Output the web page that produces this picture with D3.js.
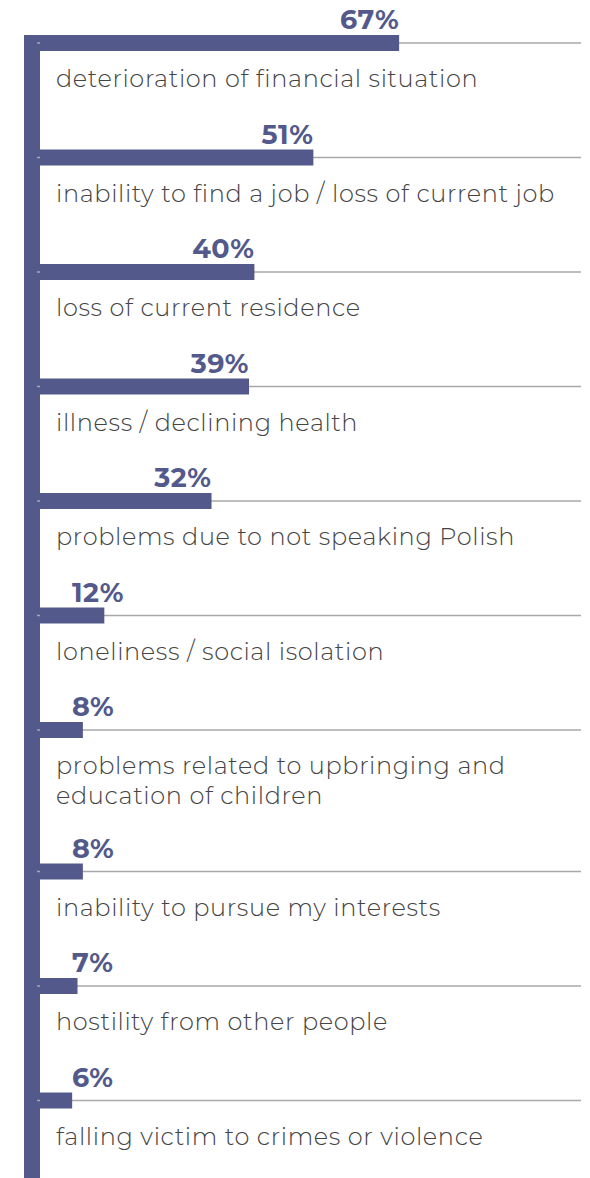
<!DOCTYPE html>
<html>
<head>
<meta charset="utf-8">
<script src="https://cdn.jsdelivr.net/npm/d3@7"></script>
<style>
  body { margin: 0; background: #fff; }
</style>
</head>
<body>
<div id="chart"></div>
<script>
// data
const categories = [
  "deterioration of financial situation",
  "inability to find a job / loss of current job",
  "loss of current residence",
  "illness / declining health",
  "problems due to not speaking Polish",
  "loneliness / social isolation",
  "problems related to upbringing and\neducation of children",
  "inability to pursue my interests",
  "hostility from other people",
  "falling victim to crimes or violence"
];
const values = [67, 51, 40, 39, 32, 12, 8, 8, 7, 6];

// dimensions
const width = 590, height = 1178;
const barColor = "#535a8b";
const barH = 16;
const step = 114.5, extraLine = 27, firstY = 43;

const svg = d3.select("#chart")
  .append("svg")
  .attr("width", width)
  .attr("height", height);

const x = d3.scaleLinear()
  .domain([0, 100])
  .range([40, 576]);

// y position of each bar centre, taller rows for wrapped labels
let acc = firstY;
const rows = categories.map((c, i) => {
  const lines = c.split("\n");
  const row = {label: lines, value: values[i], y: acc};
  acc += step + extraLine * (lines.length - 1);
  return row;
});

// vertical spine
svg.append("rect")
  .attr("x", x(0) - 16)
  .attr("y", rows[0].y - barH / 2)
  .attr("width", 16)
  .attr("height", height - (rows[0].y - barH / 2))
  .attr("fill", barColor);

// thin grey rules
svg.selectAll(".rule")
  .data(rows)
  .join("line")
  .attr("class", "rule")
  .attr("x1", x(0) - 3)
  .attr("x2", 581)
  .attr("y1", d => d.y)
  .attr("y2", d => d.y)
  .attr("stroke", "#a9a9a9")
  .attr("stroke-width", 1.3);

// bars
svg.selectAll(".bar")
  .data(rows)
  .join("rect")
  .attr("class", "bar")
  .attr("x", x(0))
  .attr("y", d => d.y - barH / 2)
  .attr("width", d => x(d.value) - x(0))
  .attr("height", barH)
  .attr("fill", barColor);

// value labels
svg.selectAll(".val")
  .data(rows)
  .join("text")
  .attr("class", "val")
  .attr("y", d => d.y - 14)
  .attr("fill", barColor)
  .style("font-family", "Montserrat, 'Open Sans', sans-serif")
  .style("font-weight", 700)
  .style("font-size", "27px")
  .style("letter-spacing", "0.5px")
  .text(d => d.value + "%")
  .each(function(d) {
    const w = this.getComputedTextLength();
    const end = x(d.value);
    // short bars: label sits just right of the spine
    if (end - w < 72) {
      d3.select(this).attr("x", 72).attr("text-anchor", "start");
    } else {
      d3.select(this).attr("x", end).attr("text-anchor", "end");
    }
  });

// category labels
svg.selectAll(".cat")
  .data(rows)
  .join("text")
  .attr("class", "cat")
  .attr("x", 56)
  .attr("y", d => d.y + 44)
  .attr("fill", "#444")
  .style("font-family", "Montserrat, 'Open Sans', sans-serif")
  .style("font-weight", 300)
  .style("font-size", "24px")
  .style("letter-spacing", "0.65px")
  .selectAll("tspan")
  .data(d => d.label)
  .join("tspan")
  .attr("x", 56)
  .attr("dy", (d, i) => i === 0 ? 0 : 30)
  .text(d => d);
</script>
</body>
</html>
